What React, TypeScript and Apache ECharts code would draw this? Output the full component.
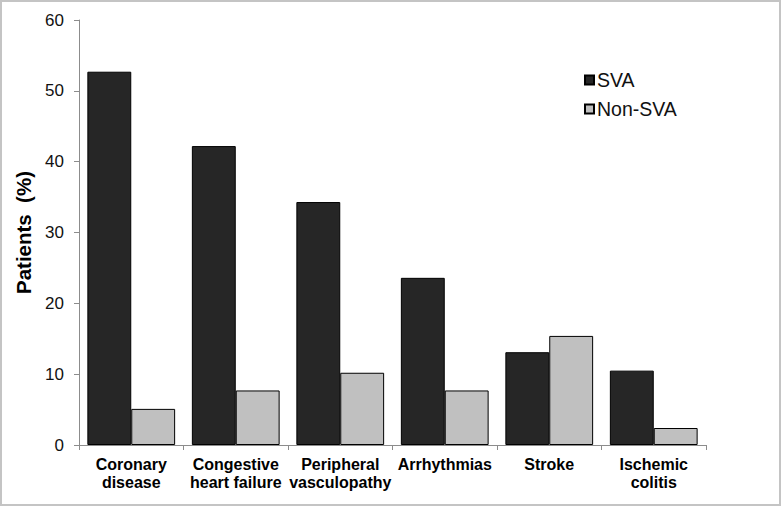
import React, { useEffect, useRef } from "react";
import * as echarts from "echarts";

const categories = [
  "Coronary\ndisease",
  "Congestive\nheart failure",
  "Peripheral\nvasculopathy",
  "Arrhythmias",
  "Stroke",
  "Ischemic\ncolitis",
];
const svaValues = [52.7, 42.2, 34.3, 23.6, 13.1, 10.5];
const nonSvaValues = [5.1, 7.7, 10.2, 7.7, 15.4, 2.4];
const seriesNames = ["SVA", "Non-SVA"];
const yAxisTitle = "Patients  (%)";

export default function App() {
  const ref = useRef<HTMLDivElement>(null);
  useEffect(() => {
    document.body.style.margin = "0";
    if (!ref.current) return;
    const chart = echarts.init(ref.current, null, { renderer: "svg" });
    const font = "Arial, 'Liberation Sans', sans-serif";
    chart.setOption({
      animation: false,
      backgroundColor: "#ffffff",
      textStyle: { fontFamily: font },
      graphic: [
        {
          type: "rect",
          shape: { x: 1, y: 1, width: 779, height: 504 },
          style: { fill: "none", stroke: "#c4c4c4", lineWidth: 2 },
          silent: true,
        },
      ],
      legend: {
        orient: "vertical",
        left: 579,
        top: 65,
        itemWidth: 9,
        itemHeight: 9,
        itemGap: 9,
        icon: "rect",
        textStyle: { fontSize: 19.5, color: "#111", fontFamily: font, padding: [0, 0, 0, -2] },
        data: seriesNames,
      },
      grid: { left: 79, right: 76, top: 20, bottom: 62, containLabel: false },
      xAxis: {
        type: "category",
        data: categories,
        axisLine: { lineStyle: { color: "#8c8c8c", width: 1 } },
        axisTick: { show: true, length: 5, lineStyle: { color: "#8c8c8c" } },
        axisLabel: {
          interval: 0,
          margin: 10,
          fontSize: 16,
          fontWeight: "bold",
          color: "#000",
          lineHeight: 18,
          fontFamily: font,
        },
      },
      yAxis: {
        type: "value",
        min: 0,
        max: 60,
        interval: 10,
        name: yAxisTitle,
        nameLocation: "middle",
        nameGap: 44,
        nameTextStyle: { fontSize: 20.5, fontWeight: "bold", color: "#000", fontFamily: font },
        axisLine: { show: true, lineStyle: { color: "#8c8c8c", width: 1 } },
        axisTick: { show: true, length: 5, lineStyle: { color: "#8c8c8c" } },
        axisLabel: { margin: 15, fontSize: 17, color: "#111", fontFamily: font },
        splitLine: { show: false },
      },
      series: [
        {
          name: seriesNames[0],
          type: "bar",
          data: svaValues,
          barGap: "0%",
          barCategoryGap: "16%",
          itemStyle: { color: "#262626", borderColor: "#000", borderWidth: 1 },
        },
        {
          name: seriesNames[1],
          type: "bar",
          data: nonSvaValues,
          barGap: "0%",
          barCategoryGap: "16%",
          itemStyle: { color: "#c0c0c0", borderColor: "#000", borderWidth: 1 },
        },
      ],
    });
    return () => chart.dispose();
  }, []);
  return <div ref={ref} style={{ width: 782, height: 507 }} />;
}
